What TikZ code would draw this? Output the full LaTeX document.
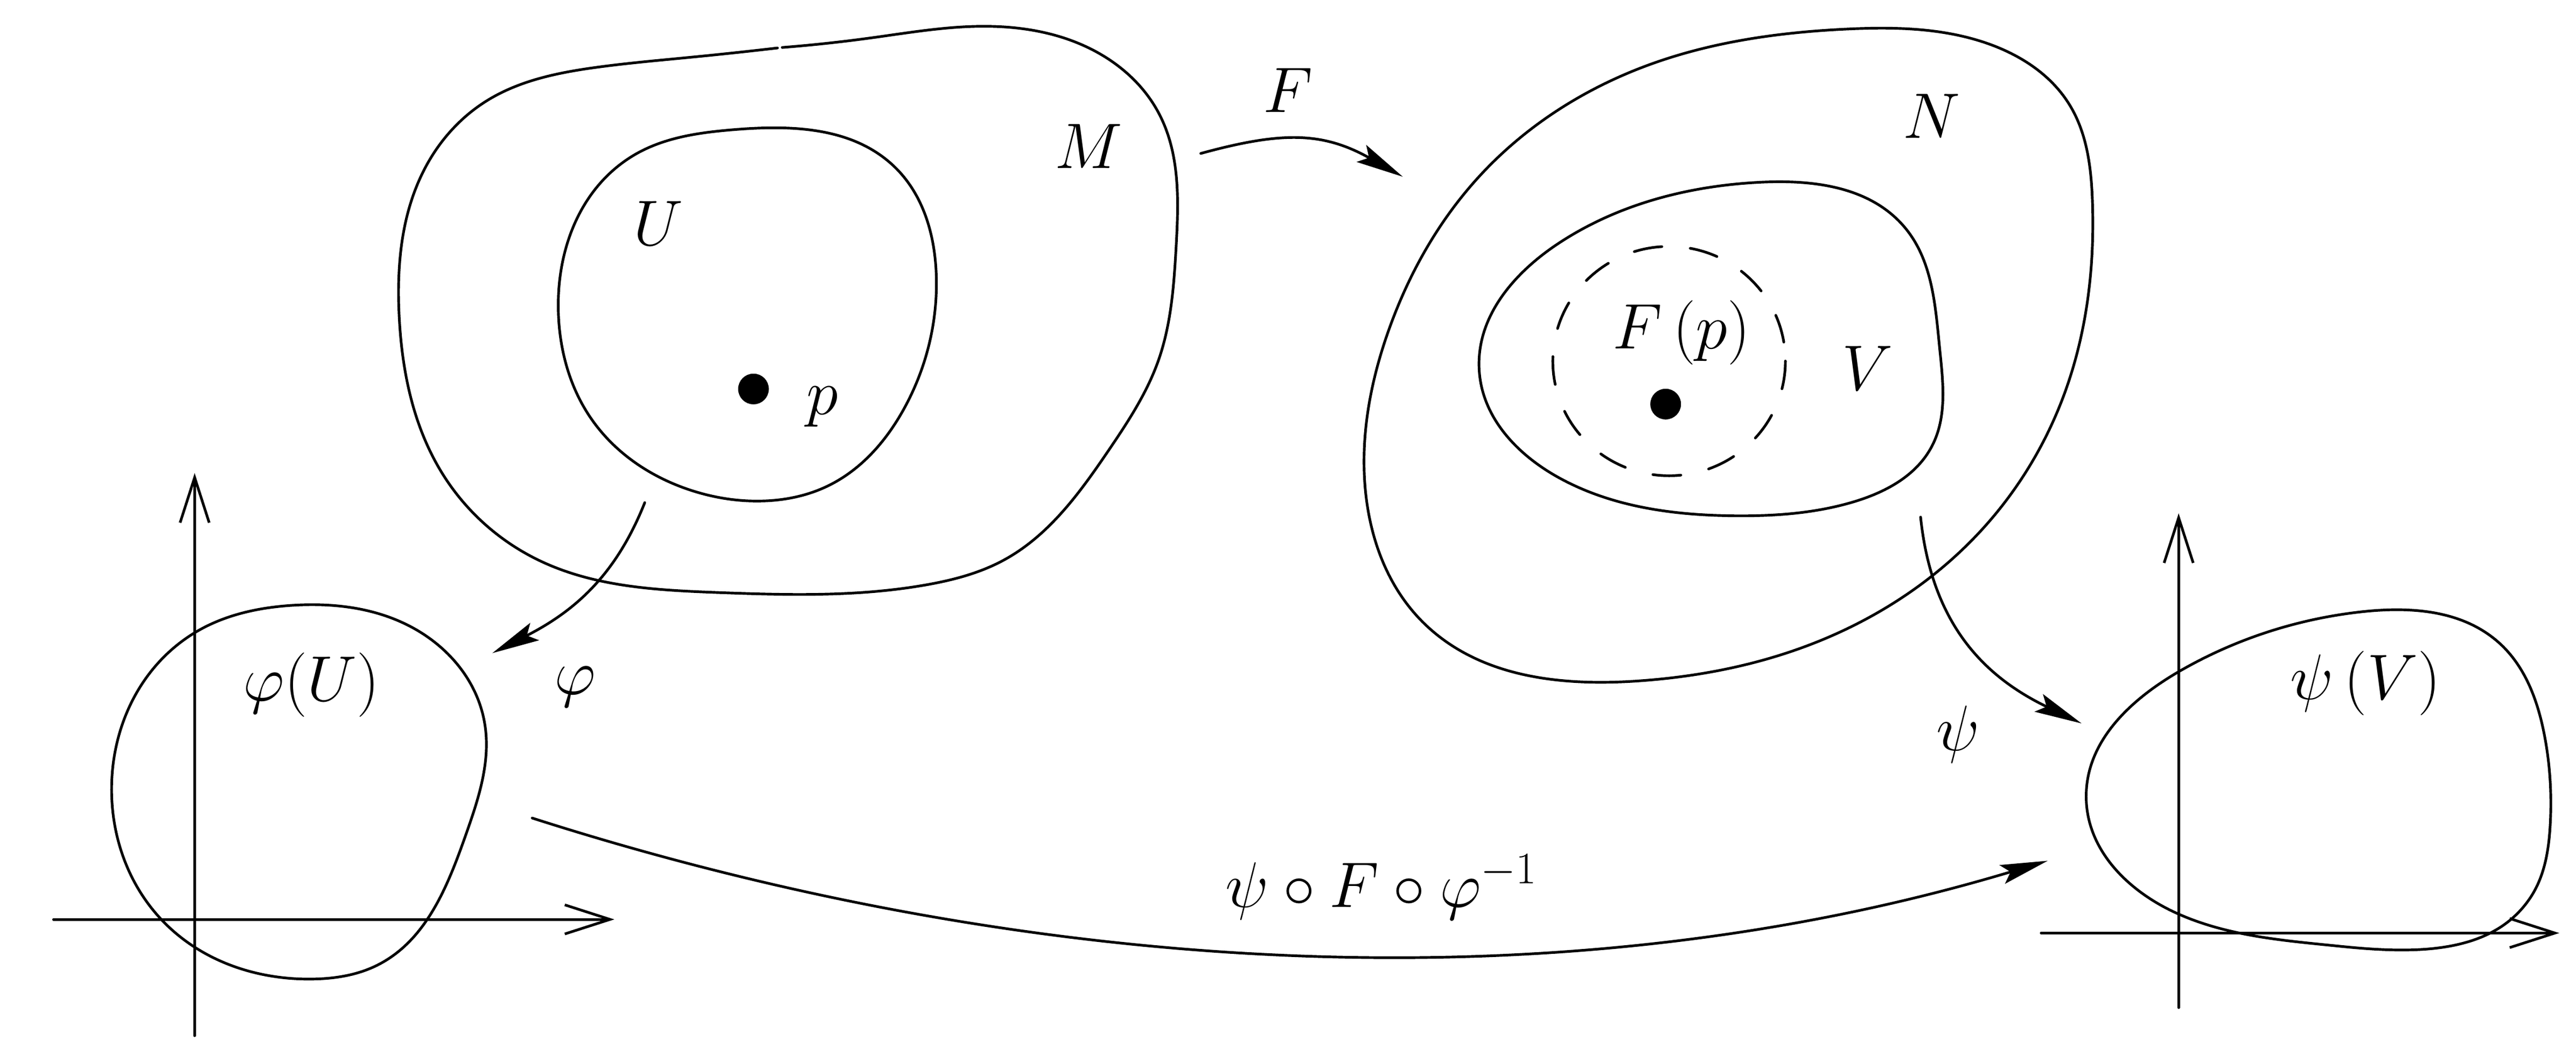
\RequirePackage{fix-cm}
\documentclass[tikz,border=0pt]{standalone}
\usetikzlibrary{arrows.meta}
\usetikzlibrary{hobby}

\begin{document}
\begin{tikzpicture}[x=3.05cm, y=-3.05cm, line cap=round, line join=round, line width=1.4pt,
  >={Stealth[length=8.8mm,width=3.6mm,inset=1.6mm]},
  lbl/.style={font=\fontsize{34}{40}\selectfont, inner sep=0pt},
  dot/.style={circle, fill, inner sep=0pt, minimum size=5.7mm},
  axis/.style={-{Straight Barb[length=8.4mm,width=5.4mm]}}]

\useasboundingbox (0,0) rectangle (15.682,6.371);

% manifold M and chart domain U
\draw plot[hobby] coordinates {(4.762,0.289) (5.300,0.231) (5.974,0.160) (6.700,0.330)
  (7.060,0.700) (7.160,1.500) (7.050,2.200) (6.750,2.740) (6.110,3.410)
  (5.640,3.560) (4.370,3.607) (3.300,3.420) (2.695,2.886) (2.430,1.924) (2.600,1.000)
  (2.964,0.613) (3.630,0.410) (4.200,0.349) (4.733,0.292)};
\draw plot[closed hobby] coordinates {(3.400,1.924) (3.850,0.950) (4.470,0.789) (5.440,1.010)
  (5.700,1.683) (5.510,2.476) (5.040,2.958) (4.636,3.050) (4.236,2.994) (3.600,2.550)};
\node[dot] (p) at (4.587,2.368) {};
\node[lbl] (plbl) at (5.007,2.476) {$p$};
\node[lbl] (U) at (4.007,1.358) {$U$};
\node[lbl] (M) at (6.627,0.890) {$M$};

% manifold N and V
\draw plot[closed hobby] coordinates {(8.308,2.935) (8.454,2.010) (9.005,1.074) (10.040,0.394)
  (11.240,0.177) (12.080,0.258) (12.600,0.640) (12.738,1.224) (12.570,2.390) (12.080,3.208)
  (11.046,3.914) (9.977,4.145) (8.680,3.805)};
\draw plot[closed hobby] coordinates {(9.005,2.256) (9.490,1.480) (10.723,1.109) (11.597,1.386)
  (11.808,2.120) (11.760,2.718) (11.274,3.058) (10.560,3.140) (9.490,2.908)};
\draw[dash pattern=on 5.2mm off 5.3mm] (10.161,2.198) ellipse (0.708 and 0.698);
\node[dot] (Fp) at (10.140,2.460) {};
\node[lbl] (Fplbl) at (10.236,2.025) {$F\,(p)$};
\node[lbl] (V) at (11.370,2.240) {$V$};
\node[lbl] (N) at (11.760,0.707) {$N$};

% the map F
\coordinate (Fs) at (7.310,0.934);
\coordinate (Fe) at (8.540,1.076);
\draw[->] (Fs) .. controls (7.800,0.800) and (8.050,0.800) .. (Fe);
\node[lbl] (F) at (7.840,0.550) {$F$};

% chart phi
\draw[axis] (1.185,6.305) -- (1.185,2.880);
\draw[axis] (0.326,5.597) -- (3.740,5.597);
\draw plot[closed hobby] coordinates {(0.680,4.845) (1.180,3.855) (1.780,3.685) (2.510,3.820)
  (2.950,4.400) (2.834,5.087) (2.308,5.870) (1.906,5.960) (1.000,5.616)};
\node[lbl] (phiU) at (1.895,4.170) {$\varphi(U)$};
\coordinate (phis) at (3.925,3.060);
\coordinate (phie) at (2.997,3.976);
\draw[->] (phis) .. controls (3.750,3.500) and (3.500,3.720) .. (phie);
\node[lbl] (phi) at (3.500,4.180) {$\varphi$};

% chart psi
\draw[axis] (13.263,6.134) -- (13.263,3.125);
\draw[axis] (12.426,5.680) -- (15.580,5.680);
\draw plot[closed hobby] coordinates {(12.700,4.850) (13.270,4.085) (14.370,3.725) (15.210,3.910)
  (15.490,4.477) (15.525,5.020) (15.407,5.460) (14.240,5.760) (13.246,5.557)};
\node[lbl] (psiV) at (14.400,4.160) {$\psi\,(V)$};
\coordinate (psis) at (11.692,3.148);
\coordinate (psie) at (12.672,4.404);
\draw[->] (psis) .. controls (11.760,3.800) and (12.080,4.120) .. (psie);
\node[lbl] (psi) at (11.920,4.470) {$\psi$};

% transition map
\coordinate (Ts) at (3.240,4.980);
\coordinate (Te) at (12.466,5.240);
\draw[->] (Ts) .. controls (6.240,5.940) and (9.466,6.140) .. (Te);
\node[lbl] (T) at (8.410,5.400) {$\psi\circ F\circ\varphi^{-1}$};

\end{tikzpicture}
\end{document}
